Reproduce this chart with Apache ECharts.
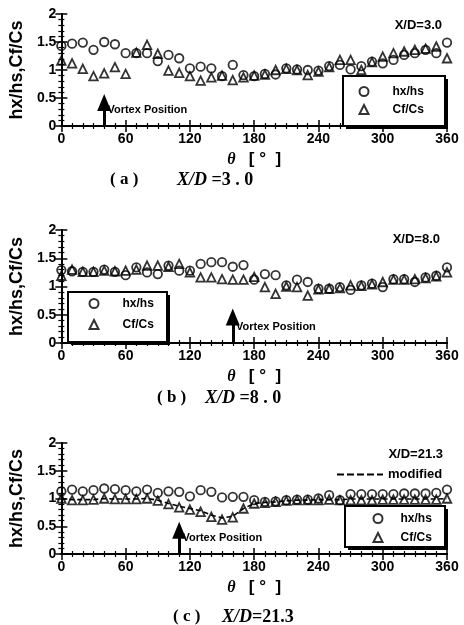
<!DOCTYPE html>
<html>
<head>
<meta charset="utf-8">
<script src="https://cdn.jsdelivr.net/npm/echarts@6/dist/echarts.min.js"></script>
<style>
  html, body { margin: 0; background: #fff; }
  #main { width: 464px; height: 625px; }
</style>
</head>
<body>
<div id="main"></div>
<script>
// angle around the cylinder, degrees
var theta = [0,10,20,30,40,50,60,70,80,90,100,110,120,130,140,150,160,170,180,
  190,200,210,220,230,240,250,260,270,280,290,300,310,320,330,340,350,360];
var xTicks = [0, 60, 120, 180, 240, 300, 360];
var yTicks = [0, 0.5, 1, 1.5, 2];

// (a) X/D = 3.0
var hxA = [1.43,1.47,1.49,1.36,1.50,1.46,1.30,1.30,1.30,1.16,1.27,1.21,1.03,1.06,1.03,0.89,1.09,0.91,0.89,
  0.93,0.92,1.03,1.01,1.00,0.99,1.07,1.09,1.01,1.07,1.15,1.12,1.18,1.27,1.30,1.36,1.30,1.49];
var cfA = [1.17,1.12,1.02,0.89,0.94,1.05,0.93,1.31,1.45,1.29,0.99,0.95,0.89,0.81,0.87,0.90,0.82,0.87,0.90,
  0.92,1.00,1.02,1.00,0.91,0.97,1.05,1.18,1.18,1.00,1.14,1.24,1.30,1.33,1.36,1.38,1.42,1.21];
// (b) X/D = 8.0
var hxB = [1.29,1.27,1.26,1.26,1.30,1.26,1.20,1.34,1.25,1.22,1.37,1.28,1.28,1.40,1.43,1.43,1.35,1.38,1.12,
  1.22,1.20,1.02,1.12,1.08,0.96,0.96,0.99,0.94,1.02,1.05,0.99,1.13,1.13,1.08,1.16,1.19,1.34];
var cfB = [1.19,1.30,1.26,1.26,1.28,1.27,1.28,1.30,1.37,1.37,1.35,1.40,1.25,1.16,1.16,1.13,1.12,1.12,1.17,
  0.99,0.87,1.00,0.99,0.84,0.95,0.96,0.97,1.02,1.01,1.04,1.08,1.12,1.12,1.13,1.15,1.18,1.25];
// (c) X/D = 21.3
var hxC = [1.13,1.16,1.13,1.15,1.18,1.17,1.15,1.13,1.16,1.10,1.13,1.12,1.04,1.15,1.12,1.02,1.03,1.03,0.97,
  0.94,0.95,0.97,0.98,0.98,1.00,1.06,0.97,1.08,1.08,1.08,1.08,1.08,1.09,1.09,1.09,1.10,1.16];
var cfC = [1.00,0.97,0.97,0.98,1.00,0.99,0.99,0.99,1.00,0.96,0.90,0.84,0.80,0.76,0.67,0.62,0.66,0.82,0.91,
  0.92,0.94,0.96,0.97,0.97,0.97,0.98,0.97,0.97,0.97,0.97,0.98,0.98,0.98,0.98,0.98,0.98,1.00];
var modC = [1.00,0.98,0.98,0.98,1.00,0.99,0.99,0.99,1.00,0.97,0.91,0.86,0.82,0.78,0.70,0.65,0.68,0.82,0.91,
  0.93,0.94,0.96,0.97,0.97,0.98,0.98,0.98,0.99,0.99,0.99,0.99,0.99,0.99,0.99,0.99,0.99,1.00];

// vortex position per panel [theta, arrow tip]
var vortexA = [40, 0.57];
var vortexB = [160, 0.61];
var vortexC = [110, 0.58];

function pairs(v) {
  return theta.map(function (t, i) { return [t, v[i]]; });
}

var ink = '#000';
var sans = 'Liberation Sans';
var serif = 'Liberation Serif';

var grids = [
  { left: 58, right: 17, top: 14, height: 112 },
  { left: 58, right: 17, top: 230, height: 113 },
  { left: 58, right: 17, top: 443, height: 111 }
];

function xAxisOf(g, top) {
  return {
    type: 'value', gridIndex: g, position: top ? 'top' : 'bottom',
    min: xTicks[0], max: xTicks[xTicks.length - 1], interval: 60,
    axisLine: { show: true, lineStyle: { color: ink, width: 2 } },
    axisTick: { show: true, inside: true, length: 6, lineStyle: { color: ink, width: 1.5 } },
    minorTick: { show: true, splitNumber: 6, length: 3, lineStyle: { color: ink, width: 1.2 } },
    splitLine: { show: false },
    axisLabel: { show: !top, color: ink, fontFamily: sans, fontWeight: 'bold', fontSize: 14, margin: 6 },
    name: top ? '' : '{t|θ}    {b|[ °  ]}',
    nameLocation: 'middle', nameGap: 25,
    nameTextStyle: {
      rich: {
        t: { fontFamily: serif, fontStyle: 'italic', fontWeight: 'bold', fontSize: 16, color: ink },
        b: { fontFamily: sans, fontWeight: 'bold', fontSize: 17, color: ink }
      }
    }
  };
}

function yAxisOf(g, right) {
  return {
    type: 'value', gridIndex: g, position: right ? 'right' : 'left',
    min: yTicks[0], max: yTicks[yTicks.length - 1], interval: 0.5,
    axisLine: { show: true, lineStyle: { color: ink, width: 2 } },
    axisTick: { show: true, inside: true, length: 6, lineStyle: { color: ink, width: 1.5 } },
    minorTick: { show: true, splitNumber: 5, length: 3, lineStyle: { color: ink, width: 1.2 } },
    splitLine: { show: false },
    axisLabel: { show: !right, color: ink, fontFamily: sans, fontWeight: 'bold', fontSize: 14, margin: 5 },
    name: right ? '' : 'hx/hs,Cf/Cs',
    nameLocation: 'middle', nameGap: 33, nameRotate: 90,
    nameTextStyle: { color: ink, fontFamily: sans, fontWeight: 'bold', fontSize: 18 }
  };
}

var openStyle = { color: 'transparent', borderColor: ink, borderWidth: 1.8 };

function hxSeries(g, v) {
  return {
    name: 'hx/hs', type: 'scatter', xAxisIndex: g, yAxisIndex: g, z: 3,
    symbol: 'circle', symbolSize: 8.5, itemStyle: openStyle, data: pairs(v)
  };
}

function cfSeries(g, v, vortex) {
  return {
    name: 'Cf/Cs', type: 'scatter', xAxisIndex: g, yAxisIndex: g, z: 3,
    symbol: 'triangle', symbolSize: 8.5, itemStyle: openStyle, data: pairs(v),
    markLine: {
      silent: true, animation: false, label: { show: false },
      lineStyle: { color: ink, width: 3, type: 'solid' },
      symbolSize: [14, 17],
      data: [[
        { coord: [vortex[0], 0], symbol: 'none' },
        { coord: [vortex[0], vortex[1] - 0.15], symbol: 'triangle' }
      ]]
    },
    markPoint: {
      silent: true, animation: false, symbol: 'circle', symbolSize: 0,
      data: [{ coord: [vortex[0] + 3, 0.29] }],
      label: {
        show: true, position: 'right', distance: 0, formatter: 'Vortex Position',
        color: ink, fontFamily: sans, fontWeight: 'bold', fontSize: 11
      }
    }
  };
}

// legend entries sit inside a drawn box; left/top is the first icon's corner
function legendItems(left, top, gap, textPad) {
  return {
    left: left, top: top, orient: 'vertical', data: ['hx/hs', 'Cf/Cs'], z: 12,
    itemWidth: 9, itemHeight: 9, itemGap: gap, padding: 0,
    selectedMode: false,
    textStyle: { color: ink, fontFamily: sans, fontWeight: 'bold', fontSize: 12,
      lineHeight: 9, padding: [0, 0, 0, textPad] }
  };
}

function legendFrame(x, y, w, h) {
  return [
    { type: 'rect', z: 10, shape: { x: x + 3, y: y + 3, width: w, height: h }, style: { fill: ink } },
    { type: 'rect', z: 11, shape: { x: x, y: y, width: w, height: h },
      style: { fill: '#fff', stroke: ink, lineWidth: 2 } }
  ];
}

function tag(text, right, y) {
  return {
    type: 'text', right: right, top: y, z: 12,
    style: { text: text, fill: ink, font: 'bold 13px "Liberation Sans"' }
  };
}

function caption(x, y, letter, value) {
  return [
    { type: 'text', left: x[0], top: y,
      style: { text: letter, fill: ink, font: 'bold 17px "Liberation Serif"' } },
    { type: 'text', left: x[1], top: y,
      style: {
        text: '{i|X/D}{p|' + value + '}',
        rich: {
          p: { fontFamily: serif, fontWeight: 'bold', fontSize: 18, fill: ink },
          i: { fontFamily: serif, fontStyle: 'italic', fontWeight: 'bold', fontSize: 18, fill: ink }
        }
      } }
  ];
}

var chart = echarts.init(document.getElementById('main'));
chart.setOption({
  backgroundColor: '#fff',
  animation: false,
  grid: grids,
  xAxis: [xAxisOf(0), xAxisOf(1), xAxisOf(2), xAxisOf(0, true), xAxisOf(1, true), xAxisOf(2, true)],
  yAxis: [yAxisOf(0), yAxisOf(1), yAxisOf(2), yAxisOf(0, true), yAxisOf(1, true), yAxisOf(2, true)],
  legend: [
    legendItems(358.5, 85.5, 6, 19),
    legendItems(88.5, 297.5, 9, 19),
    legendItems(372.5, 512.5, 7, 13),
    {
      left: 337, top: 468, data: ['modified'], itemWidth: 46, itemHeight: 2, padding: 0, z: 12,
      selectedMode: false,
      icon: 'path://M0,0h7v2h-7zM10,0h7v2h-7zM20,0h7v2h-7zM30,0h7v2h-7zM40,0h6v2h-6z',
      textStyle: { color: ink, fontFamily: sans, fontWeight: 'bold', fontSize: 13 }
    }
  ],
  series: [
    hxSeries(0, hxA), cfSeries(0, cfA, vortexA),
    hxSeries(1, hxB), cfSeries(1, cfB, vortexB),
    hxSeries(2, hxC), cfSeries(2, cfC, vortexC),
    {
      name: 'modified', type: 'line', xAxisIndex: 2, yAxisIndex: 2, z: 2,
      symbol: 'none', itemStyle: { color: ink },
      lineStyle: { color: ink, width: 1.6, type: [5, 3] },
      data: pairs(modC)
    }
  ],
  graphic: [].concat(
    legendFrame(343, 76, 102, 50),
    legendFrame(68, 292, 99, 50),
    legendFrame(345, 506, 100, 41),
    [tag('X/D=3.0', 22, 19), tag('X/D=8.0', 24, 233), tag('X/D=21.3', 21, 448)],
    caption([110, 177], 171, '( a )', ' =3 . 0'),
    caption([157, 205], 389, '( b )', ' =8 . 0'),
    caption([173, 222], 608, '( c )', '=21.3')
  )
});
</script>
</body>
</html>
